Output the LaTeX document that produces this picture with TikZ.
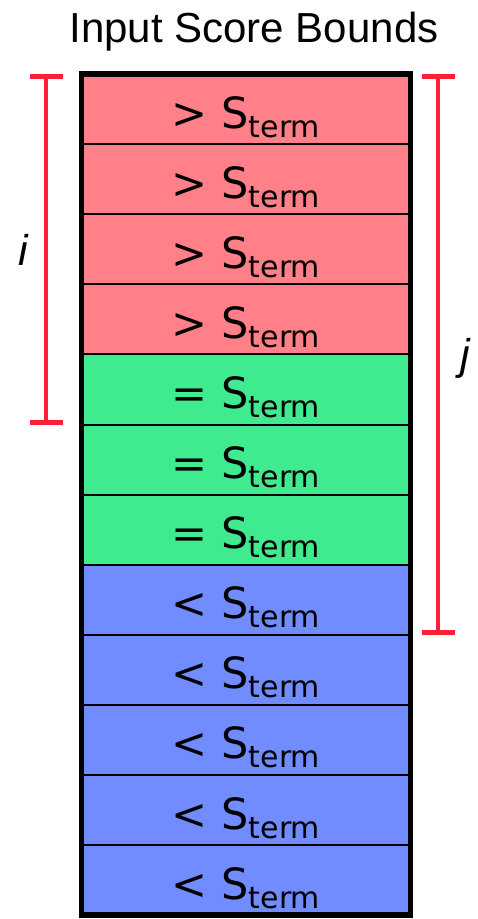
\documentclass[tikz,border=0pt]{standalone}
\usepackage{fontspec}
\setmainfont{Liberation Sans}
\newfontfamily\cellfont{DejaVu Sans}
\usepackage{tikz}
\usetikzlibrary{arrows.meta,positioning}
\definecolor{gtfill}{HTML}{FF8089}
\definecolor{eqfill}{HTML}{40EB90}
\definecolor{ltfill}{HTML}{708CFF}
\definecolor{boundred}{HTML}{FF1F38}
\newcommand{\sterm}{S\raisebox{-9pt}{\fontsize{30}{30}\selectfont term}}
\tikzset{
  cell/.style ={draw=black,line width=2pt,minimum width=329pt,minimum height=70.1pt,
                inner sep=0pt,outer sep=0pt,text height=40pt,text depth=2pt,
                font=\cellfont\fontsize{43}{43}\selectfont},
  gt/.style   ={cell,fill=gtfill},
  eq/.style   ={cell,fill=eqfill},
  lt/.style   ={cell,fill=ltfill},
  frame/.style={draw=black,line width=5.5pt},
  bound/.style={{Bar[width=33pt]}-{Bar[width=33pt]},draw=boundred,line width=4.5pt},
  tag/.style  ={font=\fontsize{43}{43}\selectfont\itshape,anchor=base}
}
\begin{document}
\begin{tikzpicture}[node distance=0pt]
  \useasboundingbox (0,0) rectangle (477pt,-919pt);
  % title
  \node[font=\fontsize{42}{42}\selectfont,anchor=base] (title) at (254pt,-42pt) {Input Score Bounds};
  % column of cells
  \node[gt] (c1) at (246pt,-109.05pt) {> \sterm};
  \node[gt,below=of c1] (c2) {> \sterm};
  \node[gt,below=of c2] (c3) {> \sterm};
  \node[gt,below=of c3] (c4) {> \sterm};
  \node[eq,below=of c4] (c5) {= \sterm};
  \node[eq,below=of c5] (c6) {= \sterm};
  \node[eq,below=of c6] (c7) {= \sterm};
  \node[lt,below=of c7] (c8) {< \sterm};
  \node[lt,below=of c8] (c9) {< \sterm};
  \node[lt,below=of c9] (c10) {< \sterm};
  \node[lt,below=of c10] (c11) {< \sterm};
  \node[lt,below=of c11] (c12) {< \sterm};
  \draw[frame] (c1.north west) rectangle (c12.south east);
  % bounds i and j
  \coordinate (itop) at ([xshift=-35.5pt]c1.north west);
  \coordinate (ibot) at ([xshift=-35.5pt]c5.south west);
  \coordinate (jtop) at ([xshift=27.5pt]c1.north east);
  \coordinate (jbot) at ([xshift=27.5pt]c8.south east);
  \draw[bound] (itop) -- (ibot);
  \draw[bound] (jtop) -- (jbot);
  \node[tag] (ilabel) at (23pt,-265pt) {i};
  \node[tag] (jlabel) at (465pt,-369pt) {j};
\end{tikzpicture}
\end{document}
